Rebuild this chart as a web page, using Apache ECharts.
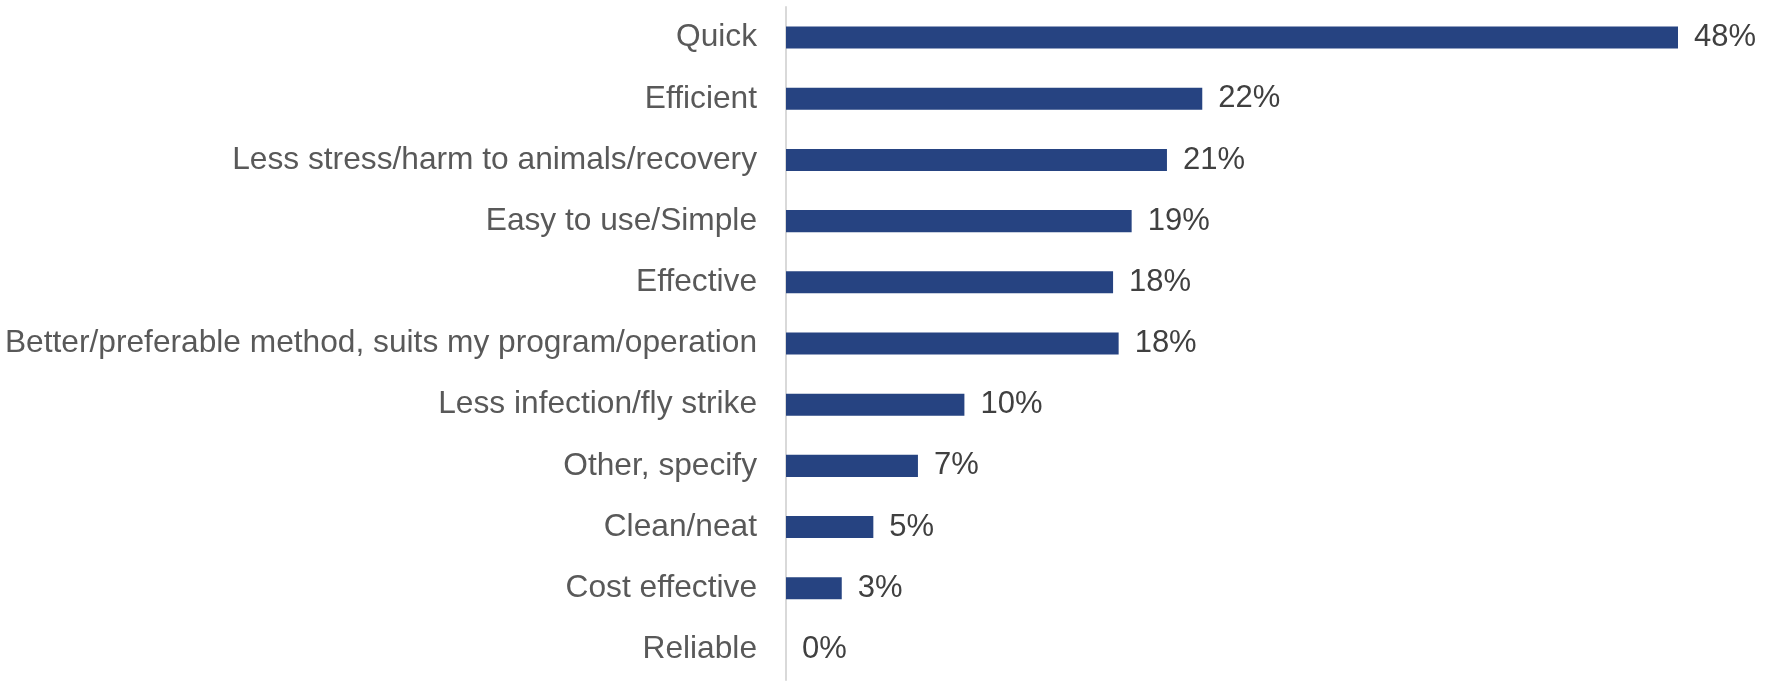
<!DOCTYPE html>
<html>
<head>
<meta charset="utf-8">
<script src="https://cdn.jsdelivr.net/npm/echarts@6/dist/echarts.min.js"></script>
<style>
  html, body { margin: 0; padding: 0; background: #fff; }
  #chart { width: 1767px; height: 682px; }
</style>
</head>
<body>
<div id="chart"></div>
<script>
// categories, top to bottom
const categories = [
  "Quick",
  "Efficient",
  "Less stress/harm to animals/recovery",
  "Easy to use/Simple",
  "Effective",
  "Better/preferable method, suits my program/operation",
  "Less infection/fly strike",
  "Other, specify",
  "Clean/neat",
  "Cost effective",
  "Reliable"
];
// share of respondents (%)
const shares = [48, 22.4, 20.5, 18.6, 17.6, 17.9, 9.6, 7.1, 4.7, 3.0, 0];

const myChart = echarts.init(document.getElementById("chart"));
myChart.setOption({
  animation: false,
  grid: {
    left: 786, right: 89, top: 7, bottom: 2,
    containLabel: false,
    outerBoundsMode: "none"
  },
  xAxis: {
    type: "value",
    min: 0,
    max: "dataMax",
    show: false
  },
  yAxis: {
    type: "category",
    data: categories,
    inverse: true,
    axisLine: { show: true, lineStyle: { color: "#d9d9d9", width: 2 } },
    axisTick: { show: false },
    axisLabel: {
      margin: 29,
      color: "#595959",
      fontFamily: "Liberation Sans, Arial, sans-serif",
      fontSize: 31.7
    }
  },
  series: [
    {
      type: "bar",
      data: shares,
      barCategoryGap: "64%",
      itemStyle: { color: "#264381" },
      label: {
        show: true,
        position: "right",
        distance: 16,
        color: "#404040",
        fontFamily: "Liberation Sans, Arial, sans-serif",
        fontSize: 31,
        formatter: (p) => Math.round(p.value) + "%"
      }
    }
  ]
});
</script>
</body>
</html>
